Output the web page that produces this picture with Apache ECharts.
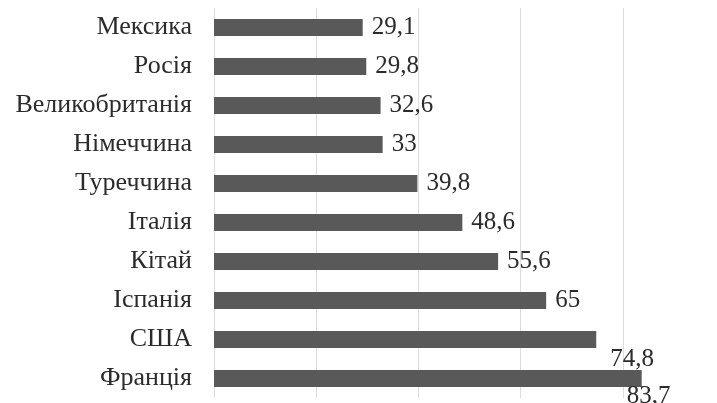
<!DOCTYPE html>
<html>
<head>
<meta charset="utf-8">
<script src="https://cdn.jsdelivr.net/npm/echarts@6/dist/echarts.min.js"></script>
<style>
  html, body { margin: 0; padding: 0; background: #fff; }
  #chart { width: 717px; height: 403px; }
</style>
</head>
<body>
<div id="chart"></div>
<script>
// країни (зверху вниз)
var countries = ['Мексика', 'Росія', 'Великобританія', 'Німеччина', 'Туреччина',
                 'Італія', 'Кітай', 'Іспанія', 'США', 'Франція'];
var values = [29.1, 29.8, 32.6, 33, 39.8, 48.6, 55.6, 65, 74.8, 83.7];
var axisTicks = [0, 20, 40, 60, 80, 100];

// зсув підписів для двох останніх (як на оригіналі)
var labelShift = { 'США': [14, 20], 'Франція': [-15, 18] };

var seriesData = values.map(function (v, i) {
  var item = { value: v };
  if (labelShift[countries[i]]) {
    item.label = { distance: 0, offset: labelShift[countries[i]] };
  }
  return item;
});

var chart = echarts.init(document.getElementById('chart'));
chart.setOption({
  animation: false,
  grid: {
    left: 214, top: 8, width: 511, height: 390,
    containLabel: false,
    outerBoundsMode: 'none'
  },
  xAxis: {
    type: 'value',
    min: axisTicks[0],
    max: axisTicks[axisTicks.length - 1],
    interval: 20,
    axisLine: { show: false },
    axisTick: { show: false },
    axisLabel: { show: false },
    splitLine: { lineStyle: { color: '#dcdcdc', width: 1 } }
  },
  yAxis: {
    type: 'category',
    inverse: true,
    data: countries,
    axisLine: { show: false },
    axisTick: { show: false },
    axisLabel: {
      margin: 22,
      color: '#2b2b2b',
      fontFamily: 'Liberation Serif',
      fontSize: 26
    }
  },
  series: [{
    type: 'bar',
    data: seriesData,
    barWidth: 17,
    itemStyle: { color: '#595959' },
    label: {
      show: true,
      position: 'right',
      distance: 9,
      color: '#2b2b2b',
      fontFamily: 'Liberation Serif',
      fontSize: 25,
      formatter: function (p) { return String(p.value).replace('.', ','); }
    }
  }]
});
</script>
</body>
</html>
